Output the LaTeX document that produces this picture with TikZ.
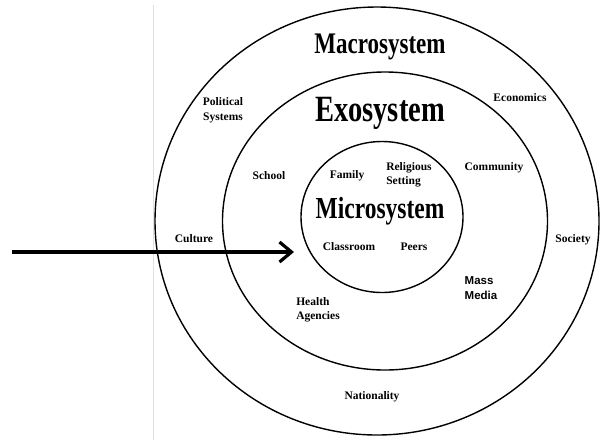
\documentclass[tikz,border=0pt]{standalone}
\usepackage{fontspec}
\setmainfont{Liberation Serif}
\newfontfamily\mediafont{Liberation Sans}
\usepackage{graphicx}
\usetikzlibrary{shapes.geometric,arrows.meta}

\newcommand{\tallbox}[1]{\scalebox{1}[1.3]{#1}}

\begin{document}
\begin{tikzpicture}[x=1pt, y=-1pt,
    ringStyle/.style={ellipse, draw, line width=1.4pt, inner sep=0pt},
    titleStyle/.style={inner sep=0pt, font=\bfseries\fontsize{#1}{#1}\selectfont},
    labelStyle/.style={inner sep=0pt, align=center, font=\bfseries\fontsize{11.5}{14.5}\selectfont}]
    \useasboundingbox (0, 0) rectangle (601, 440);
    \draw[gray!25, line width=0.8pt] (153, 5) -- (153, 440);

    % the three rings
    \node[ringStyle, minimum width=444pt, minimum height=428pt] (macro_ring) at (377, 221) {};
    \node[ringStyle, minimum width=325pt, minimum height=298pt] (exo_ring)   at (385, 221) {};
    \node[ringStyle, minimum width=162pt, minimum height=151pt] (micro_ring) at (382, 217) {};

    % titles
    \node[titleStyle=23] (macro_title) at (380,  47) {\tallbox{Macrosystem}};
    \node[titleStyle=28.5] (exo_title) at (380, 113) {\tallbox{Exosystem}};
    \node[titleStyle=23.5] (micro_title) at (380, 211) {\tallbox{Microsystem}};

    % macrosystem
    \node[labelStyle] (political)   at (223, 110) {Political\\Systems};
    \node[labelStyle] (economics)   at (520,  98) {Economics};
    \node[labelStyle] (culture)     at (194, 239) {Culture};
    \node[labelStyle] (society)     at (573, 240) {Society};
    \node[labelStyle] (nationality) at (372, 397) {Nationality};

    % exosystem
    \node[labelStyle] (school)    at (269, 176) {School};
    \node[labelStyle] (community) at (494, 168) {Community};
    \node[labelStyle, align=left] (health) at (318, 310) {Health\\Agencies};
    \node[labelStyle, align=left, font=\mediafont\bfseries\fontsize{11.5}{15}\selectfont] (media) at (481, 288) {Mass\\Media};

    % microsystem
    \node[labelStyle] (family)    at (347, 176) {Family};
    \node[labelStyle, align=left] (religious) at (409, 175) {Religious\\Setting};
    \node[labelStyle] (classroom) at (349, 247) {Classroom};
    \node[labelStyle] (peers)     at (414, 247) {Peers};

    \coordinate (arrow_start) at (12, 252);
    \coordinate (arrow_end)   at (294, 252);
    \draw[line width=3.2pt, -{Straight Barb[length=12pt, width=20pt]}] (arrow_start) -- (arrow_end);
\end{tikzpicture}
\end{document}
